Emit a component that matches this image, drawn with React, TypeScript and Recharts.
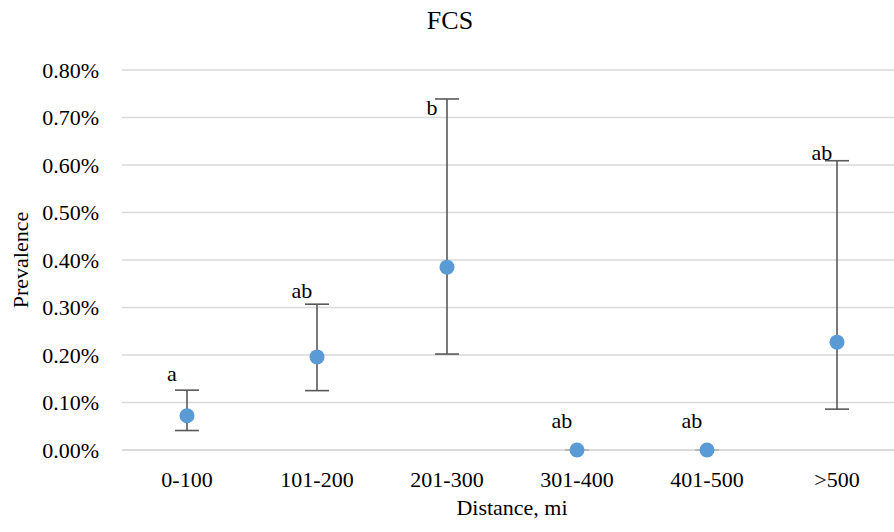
import React from 'react';
import { ComposedChart, Line, XAxis, YAxis, CartesianGrid, ErrorBar, LabelList, Label } from 'recharts';

const categories = ['0-100', '101-200', '201-300', '301-400', '401-500', '>500'];
const prevalence = [0.072, 0.196, 0.385, 0, 0, 0.227];
const lowerCI = [0.041, 0.125, 0.202, 0, 0, 0.086];
const upperCI = [0.126, 0.307, 0.739, 0, 0, 0.609];
const letters = ['a', 'ab', 'b', 'ab', 'ab', 'ab'];
const letterLevels = [0.145, 0.32, 0.705, 0.046, 0.046, 0.61];
const yTicks = [0, 0.1, 0.2, 0.3, 0.4, 0.5, 0.6, 0.7, 0.8];

const data = categories.map((name, i) => ({
  name,
  value: prevalence[i],
  err: [prevalence[i] - lowerCI[i], upperCI[i] - prevalence[i]],
  letterAt: letterLevels[i],
  letter: letters[i],
}));

const FONT = '"Liberation Serif", "Times New Roman", serif';
const FS = 22;

const renderLetter = (props: any) => {
  const { x, y, value } = props;
  return (
    <text x={x - 15} y={y} textAnchor="middle" fontFamily={FONT} fontSize={FS} fill="#000">
      {value}
    </text>
  );
};

const renderYTitle = () => (
  <text x={20} y={260} transform="rotate(-90 20 260)" textAnchor="middle" dominantBaseline="central" fontFamily={FONT} fontSize={FS} fill="#000">
    Prevalence
  </text>
);

const renderXTitle = () => (
  <text x={512} y={515} textAnchor="middle" fontFamily={FONT} fontSize={FS} fill="#000">
    Distance, mi
  </text>
);

export default function App() {
  return (
    <div style={{ position: 'absolute', left: 0, top: 0, width: 894, height: 532, overflow: 'hidden', background: '#fff' }}>
      <svg width={900} height={50} style={{ position: 'absolute', left: 0, top: 0 }}>
        <text x={450} y={29} textAnchor="middle" fontFamily={FONT} fontSize={26} fill="#000">FCS</text>
      </svg>
      <div style={{ position: 'absolute', left: 0, top: 0 }}>
        <ComposedChart width={910} height={532} data={data} margin={{ top: 70, right: 8, bottom: 42, left: 0 }}>
          <CartesianGrid vertical={false} stroke="#D9D9D9" strokeWidth={1.3} />
          <XAxis
            dataKey="name"
            type="category"
            height={40}
            padding={{ left: 65, right: 65 }}
            axisLine={{ stroke: '#D9D9D9', strokeWidth: 1.3 }}
            tickLine={false}
            tickSize={6}
            tickMargin={15}
            tick={{ fontFamily: FONT, fontSize: FS, fill: '#000' }}
          >
            <Label content={renderXTitle} />
          </XAxis>
          <YAxis
            width={122}
            domain={[0, 0.8]}
            ticks={yTicks}
            tickFormatter={(v: number) => v.toFixed(2) + '%'}
            axisLine={false}
            tickLine={false}
            tickSize={6}
            tickMargin={17}
            tick={{ fontFamily: FONT, fontSize: FS, fill: '#000' }}
          >
            <Label content={renderYTitle} />
          </YAxis>
          <Line dataKey="value" stroke="none" dot={false} activeDot={false} isAnimationActive={false}>
            <ErrorBar dataKey="err" width={12} stroke="#595959" strokeWidth={1.6} direction="y" />
          </Line>
          <Line dataKey="value" stroke="none" dot={{ r: 7.5, fill: '#5B9BD5', stroke: 'none' }} activeDot={false} isAnimationActive={false} />
          <Line dataKey="letterAt" stroke="none" dot={false} activeDot={false} isAnimationActive={false}>
            <LabelList dataKey="letter" content={renderLetter} />
          </Line>
        </ComposedChart>
      </div>
    </div>
  );
}
